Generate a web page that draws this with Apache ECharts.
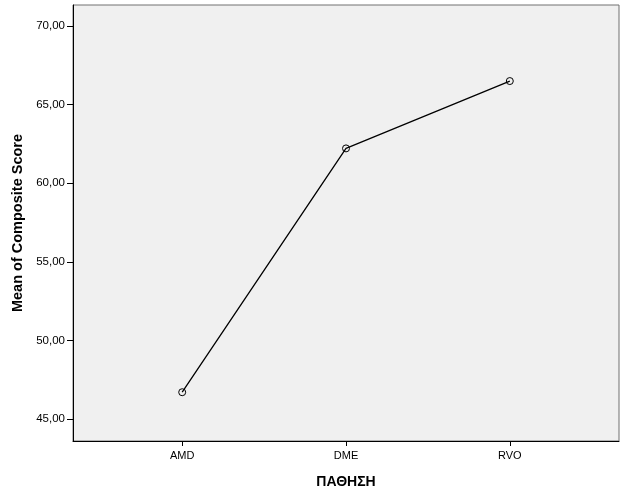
<!DOCTYPE html>
<html>
<head>
<meta charset="utf-8">
<script src="https://cdn.jsdelivr.net/npm/echarts@6/dist/echarts.min.js"></script>
<style>html,body{margin:0;padding:0;background:#fff}#c{width:626px;height:501px}</style>
</head>
<body>
<div id="c"></div>
<script>
const categories = ['AMD', 'DME', 'RVO'];
const meanScores = [46.72, 62.22, 66.50];
const yTicks = [45, 50, 55, 60, 65, 70];

const chart = echarts.init(document.getElementById('c'), null, {renderer: 'canvas'});
const fmt = v => v.toFixed(2).replace('.', ',');
chart.setOption({
  animation: false,
  grid: {left: 73, right: 7, top: 5, bottom: 60, show: true, backgroundColor: '#f0f0f0', borderColor: '#707070', borderWidth: 1},
  xAxis: {
    type: 'value', min: 1/3, max: 11/3,
    name: 'ΠΑΘΗΣΗ', nameLocation: 'middle', nameGap: 34,
    nameTextStyle: {fontFamily: 'Liberation Sans', fontWeight: 'bold', fontSize: 14, color: '#000'},
    splitLine: {show: false},
    axisLine: {lineStyle: {color: '#000', width: 1}},
    axisTick: {customValues: [1, 2, 3], length: 5, lineStyle: {color: '#000'}},
    axisLabel: {customValues: [1, 2, 3], formatter: v => categories[Math.round(v) - 1], fontFamily: 'Liberation Sans', fontSize: 11, color: '#000', margin: 9}
  },
  yAxis: {
    type: 'value', min: 43.62, max: 71.335,
    name: 'Mean of Composite Score', nameLocation: 'middle', nameGap: 44, nameRotate: 90,
    nameTextStyle: {fontFamily: 'Liberation Sans', fontWeight: 'bold', fontSize: 14.5, color: '#000'},
    splitLine: {show: false},
    axisLine: {show: true, lineStyle: {color: '#000', width: 1}},
    axisTick: {show: true, customValues: yTicks, length: 6, lineStyle: {color: '#000'}},
    axisLabel: {customValues: yTicks, formatter: fmt, fontFamily: 'Liberation Sans', fontSize: 11.5, color: '#000', margin: 8}
  },
  series: [{
    type: 'line',
    data: categories.map((c, i) => [i + 1, meanScores[i]]),
    symbol: 'circle', symbolSize: 7,
    itemStyle: {color: 'rgba(0,0,0,0)', borderColor: '#000', borderWidth: 1},
    lineStyle: {color: '#000', width: 1.3}
  }]
});
</script>
</body>
</html>
